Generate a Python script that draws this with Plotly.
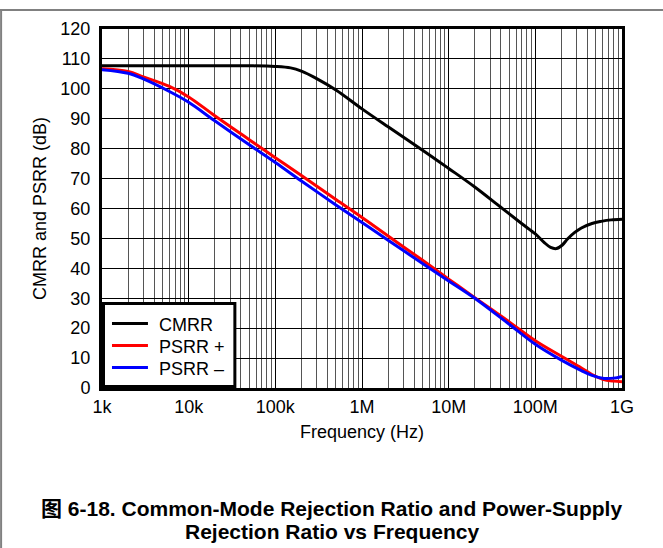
import plotly.graph_objects as go

# ---- data ----
cmrr_f = [1e3, 1e4, 5e4, 1e5, 1.5e5, 2e5, 3e5, 5e5, 1e6, 2e6, 5e6, 1e7, 2e7, 4e7, 7e7,
          1e8, 1.26e8, 1.5e8, 1.75e8, 2.05e8, 2.35e8, 2.85e8, 3.4e8, 4.5e8, 5.75e8, 7.5e8, 1e9]
cmrr_db = [107.7, 107.7, 107.7, 107.5, 107.0, 105.9, 103.4, 99.6, 93.3, 87.3, 79.5, 73.4,
           67.2, 60.4, 54.9, 51.5, 48.7, 47.0, 46.6, 47.8, 49.8, 52.0, 53.5, 55.0, 55.7,
           56.2, 56.4]

psrrp_f = [1e3, 2e3, 3e3, 6e3, 1e4, 2e4, 5e4, 1e5, 2e5, 5e5, 1e6, 2e6, 5e6, 1e7, 2e7,
           5e7, 1e8, 2e8, 3.4e8, 4.5e8, 6e8, 8e8, 1e9]
psrrp_db = [106.7, 105.8, 104.0, 100.8, 97.3, 91.0, 83.0, 77.0, 71.0, 63.0, 57.0, 50.8,
            42.7, 36.4, 30.2, 22.1, 15.8, 10.6, 6.7, 4.5, 2.9, 2.3, 2.1]

psrrm_f = [1e3, 2e3, 3e3, 6e3, 1e4, 2e4, 5e4, 1e5, 2e5, 5e5, 1e6, 2e6, 5e6, 1e7, 2e7,
           5e7, 1e8, 2e8, 3.4e8, 4.5e8, 6.2e8, 8e8, 1e9]
psrrm_db = [106.4, 105.2, 103.3, 99.1, 95.5, 89.3, 81.3, 75.4, 69.2, 61.2, 55.3, 49.4,
            41.6, 35.8, 30.0, 21.3, 14.6, 9.3, 5.8, 4.2, 3.2, 3.3, 3.9]

x_tickvals = [1e3, 1e4, 1e5, 1e6, 1e7, 1e8, 1e9]
x_ticktext = ["1k", "10k", "100k", "1M", "10M", "100M", "1G"]
minor_mult = [2, 3, 4, 5, 6, 7, 8, 9]
y_tickvals = [0, 10, 20, 30, 40, 50, 60, 70, 80, 90, 100, 110, 120]

series_names = ["CMRR", "PSRR +", "PSRR \u2013"]
series_colors = ["#000000", "#ff0000", "#0000ff"]

caption1 = "\u56fe 6-18. Common-Mode Rejection Ratio and Power-Supply"
caption2 = "Rejection Ratio vs Frequency"

FONT = "Liberation Sans, Arial, Noto Sans CJK SC, sans-serif"

minor_vals = [d * m for d in x_tickvals[:-1] for m in minor_mult]

fig = go.Figure()
for f, v, n, c in zip([cmrr_f, psrrp_f, psrrm_f], [cmrr_db, psrrp_db, psrrm_db],
                      series_names, series_colors):
    fig.add_trace(go.Scatter(x=f, y=v, name=n, mode="lines", showlegend=False,
                             line=dict(color=c, width=3, shape="spline", smoothing=1.0)))

# plot area in pixels
L, R, T, B = 102, 622.5, 29, 388
W, H = 663, 548
pw, ph = R - L, B - T

def px_x(x):
    return (x - L) / pw

def px_y(y):
    return (B - y) / ph

shapes = [
    dict(type="line", xref="paper", yref="paper", x0=px_x(-5), x1=px_x(670),
         y0=px_y(10), y1=px_y(10), line=dict(color="#808080", width=2)),
    dict(type="line", xref="paper", yref="paper", x0=px_x(1), x1=px_x(1),
         y0=px_y(10), y1=px_y(560), line=dict(color="#808080", width=2)),
    # legend box
    dict(type="rect", xref="paper", yref="paper", layer="above",
         x0=px_x(103.5), x1=px_x(235), y0=px_y(386.5), y1=px_y(303.5),
         fillcolor="white", line=dict(color="black", width=3)),
]
annotations = []
for i, (n, c) in enumerate(zip(series_names, series_colors)):
    yy = 323.5 + 22 * i
    shapes.append(dict(type="line", xref="paper", yref="paper", layer="above",
                       x0=px_x(112), x1=px_x(148), y0=px_y(yy), y1=px_y(yy),
                       line=dict(color=c, width=3)))
    annotations.append(dict(text=n, xref="paper", yref="paper", x=px_x(157), y=px_y(yy + 1),
                            xanchor="left", yanchor="middle", showarrow=False,
                            font=dict(family=FONT, size=18, color="black")))

annotations += [
    dict(text="<b>" + caption1 + "</b>", xref="paper", yref="paper",
         x=px_x(332), y=px_y(508), xanchor="center", yanchor="middle",
         showarrow=False, font=dict(family=FONT, size=21, color="black")),
    dict(text="<b>" + caption2 + "</b>", xref="paper", yref="paper",
         x=px_x(332), y=px_y(531), xanchor="center", yanchor="middle",
         showarrow=False, font=dict(family=FONT, size=21, color="black")),
]

fig.update_layout(
    width=W, height=H,
    margin=dict(l=L, r=W - R, t=T, b=H - B, pad=0),
    paper_bgcolor="white", plot_bgcolor="white",
    font=dict(family=FONT, size=18, color="black"),
    showlegend=False,
    xaxis=dict(type="log", range=[3, 9], tickvals=x_tickvals, ticktext=x_ticktext,
               showgrid=True, gridcolor="black", gridwidth=1,
               showline=True, linecolor="black", linewidth=3, mirror=True,
               ticks="", ticklabelstandoff=0, zeroline=False,
               tickfont=dict(family=FONT, size=18, color="black"),
               title=dict(text="Frequency (Hz)", standoff=10,
                          font=dict(family=FONT, size=18, color="black")),
               minor=dict(tickvals=minor_vals, showgrid=True, gridcolor="#555555",
                          gridwidth=1, ticks="")),
    yaxis=dict(range=[0, 120], tickvals=y_tickvals,
               showgrid=True, gridcolor="black", gridwidth=1,
               showline=True, linecolor="black", linewidth=3, mirror=True,
               ticks="", ticklabelstandoff=5, zeroline=False,
               tickfont=dict(family=FONT, size=18, color="black"),
               title=dict(text="CMRR and PSRR (dB)", standoff=10,
                          font=dict(family=FONT, size=18, color="black"))),
    shapes=shapes,
    annotations=annotations,
)

fig.write_html("out.html", config={"displayModeBar": False},
               post_script="document.body.style.margin='0';document.body.style.overflow='hidden';")
